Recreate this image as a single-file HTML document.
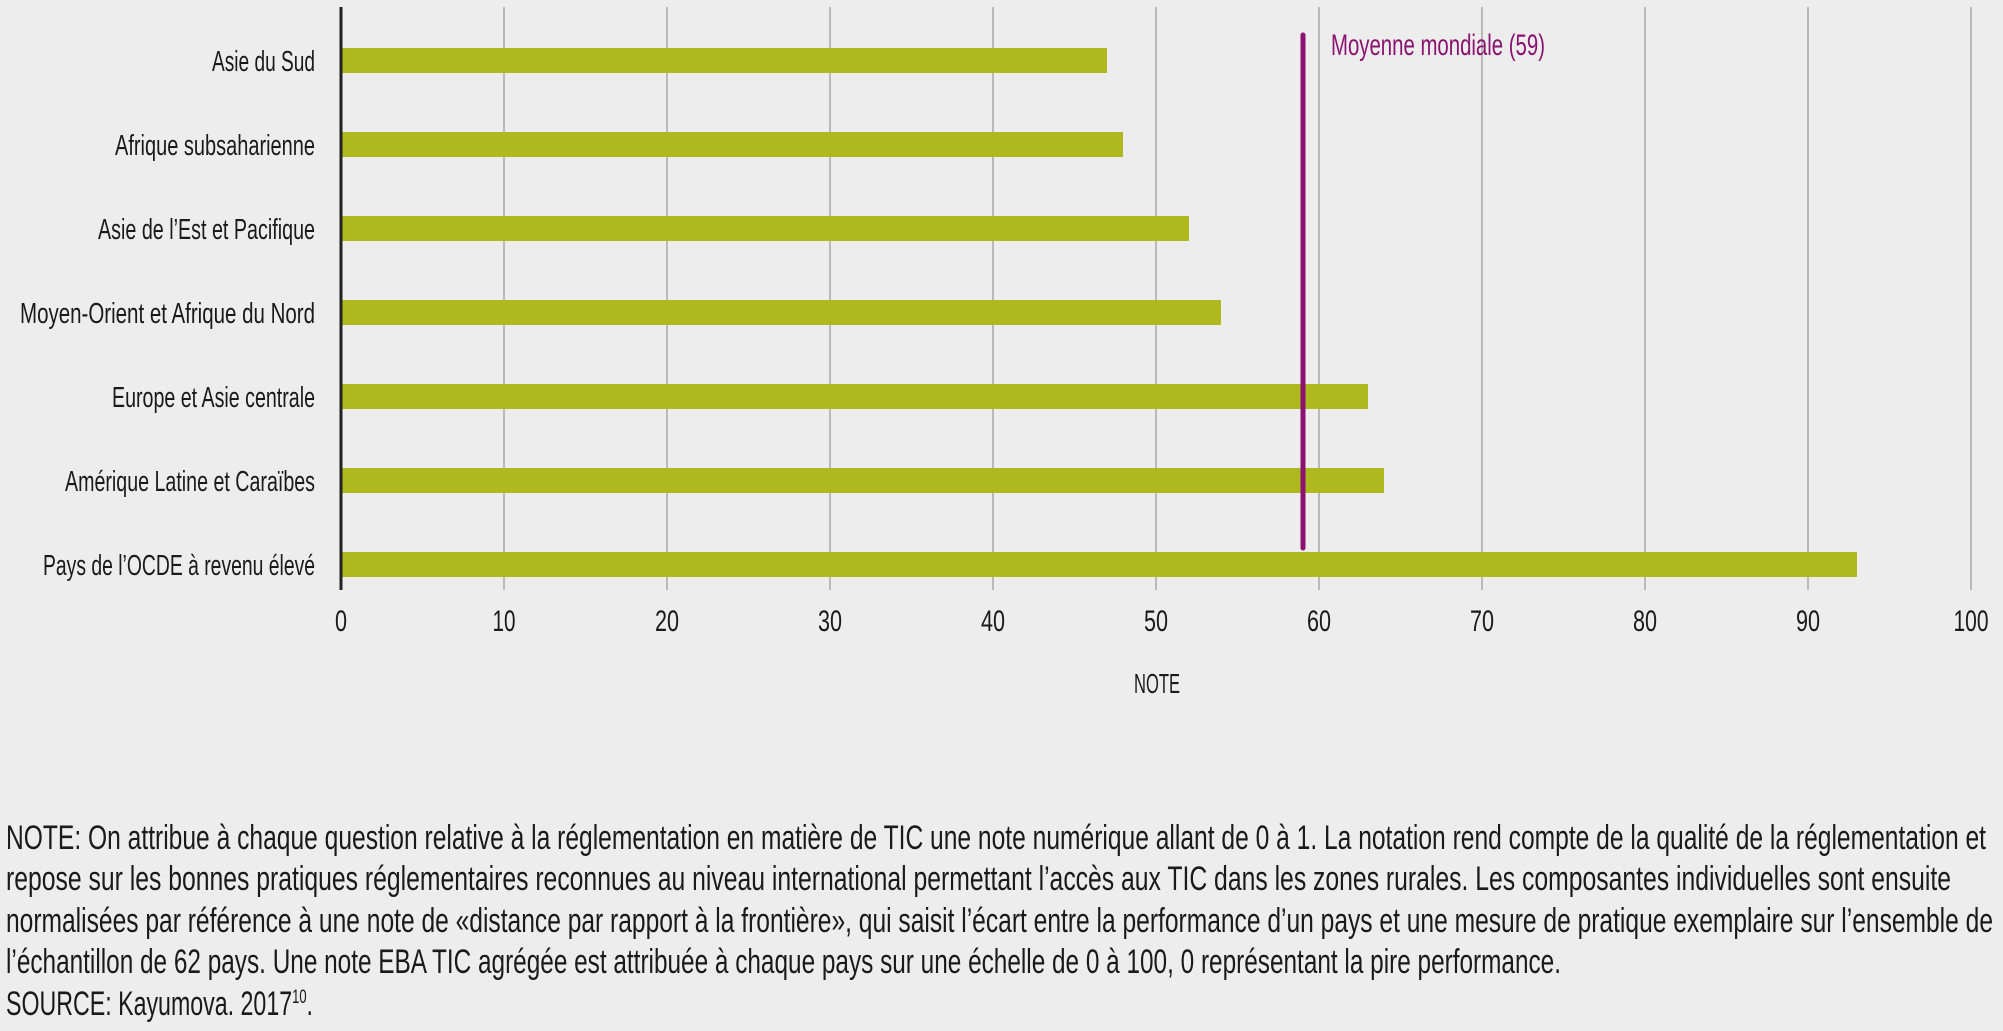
<!DOCTYPE html>
<html><head><meta charset="utf-8"><style>
html,body{margin:0;padding:0;background:#ededed;}
svg{display:block;}
text{font-family:"Liberation Sans",sans-serif;fill:#1a1a1a;}
</style></head><body>
<svg width="2003" height="1031" viewBox="0 0 2003 1031" xmlns="http://www.w3.org/2000/svg">
<rect width="2003" height="1031" fill="#ededed"/>
<g stroke="#a8a8a8" stroke-width="1.5">
<line x1="504" y1="7" x2="504" y2="590"/>
<line x1="667" y1="7" x2="667" y2="590"/>
<line x1="830" y1="7" x2="830" y2="590"/>
<line x1="993" y1="7" x2="993" y2="590"/>
<line x1="1156" y1="7" x2="1156" y2="590"/>
<line x1="1319" y1="7" x2="1319" y2="590"/>
<line x1="1482" y1="7" x2="1482" y2="590"/>
<line x1="1645" y1="7" x2="1645" y2="590"/>
<line x1="1808" y1="7" x2="1808" y2="590"/>
<line x1="1971" y1="7" x2="1971" y2="590"/>
</g>
<g fill="#adb91f">
<rect x="341" y="48" width="766" height="25"/>
<rect x="341" y="132" width="782" height="25"/>
<rect x="341" y="216" width="848" height="25"/>
<rect x="341" y="300" width="880" height="25"/>
<rect x="341" y="384" width="1027" height="25"/>
<rect x="341" y="468" width="1043" height="25"/>
<rect x="341" y="552" width="1516" height="25"/>
</g>
<line x1="341" y1="7" x2="341" y2="590" stroke="#222" stroke-width="3"/>
<line x1="1303" y1="35" x2="1303" y2="548" stroke="#8b1271" stroke-width="5" stroke-linecap="round"/>
<text x="1331" y="55" font-size="30" style="fill:#8b1271" textLength="214" lengthAdjust="spacingAndGlyphs">Moyenne mondiale (59)</text>
<g font-size="29" text-anchor="end">
<text x="315" y="71" textLength="103" lengthAdjust="spacingAndGlyphs">Asie du Sud</text>
<text x="315" y="155" textLength="200" lengthAdjust="spacingAndGlyphs">Afrique subsaharienne</text>
<text x="315" y="239" textLength="217" lengthAdjust="spacingAndGlyphs">Asie de l’Est et Pacifique</text>
<text x="315" y="323" textLength="295" lengthAdjust="spacingAndGlyphs">Moyen-Orient et Afrique du Nord</text>
<text x="315" y="407" textLength="203" lengthAdjust="spacingAndGlyphs">Europe et Asie centrale</text>
<text x="315" y="491" textLength="250" lengthAdjust="spacingAndGlyphs">Amérique Latine et Caraïbes</text>
<text x="315" y="575" textLength="272" lengthAdjust="spacingAndGlyphs">Pays de l’OCDE à revenu élevé</text>
</g>
<g font-size="30" text-anchor="middle">
<text x="341" y="631" textLength="12" lengthAdjust="spacingAndGlyphs">0</text>
<text x="504" y="631" textLength="23" lengthAdjust="spacingAndGlyphs">10</text>
<text x="667" y="631" textLength="24" lengthAdjust="spacingAndGlyphs">20</text>
<text x="830" y="631" textLength="24" lengthAdjust="spacingAndGlyphs">30</text>
<text x="993" y="631" textLength="24" lengthAdjust="spacingAndGlyphs">40</text>
<text x="1156" y="631" textLength="24" lengthAdjust="spacingAndGlyphs">50</text>
<text x="1319" y="631" textLength="24" lengthAdjust="spacingAndGlyphs">60</text>
<text x="1482" y="631" textLength="24" lengthAdjust="spacingAndGlyphs">70</text>
<text x="1645" y="631" textLength="24" lengthAdjust="spacingAndGlyphs">80</text>
<text x="1808" y="631" textLength="24" lengthAdjust="spacingAndGlyphs">90</text>
<text x="1971" y="631" textLength="35" lengthAdjust="spacingAndGlyphs">100</text>
<text x="1157" y="693" font-size="28" textLength="46" lengthAdjust="spacingAndGlyphs">NOTE</text>
</g>
<g font-size="34">
<text x="6" y="849" textLength="1980" lengthAdjust="spacingAndGlyphs">NOTE: On attribue à chaque question relative à la réglementation en matière de TIC une note numérique allant de 0 à 1. La notation rend compte de la qualité de la réglementation et</text>
<text x="6" y="890" textLength="1945" lengthAdjust="spacingAndGlyphs">repose sur les bonnes pratiques réglementaires reconnues au niveau international permettant l’accès aux TIC dans les zones rurales. Les composantes individuelles sont ensuite</text>
<text x="6" y="932" textLength="1987" lengthAdjust="spacingAndGlyphs">normalisées par référence à une note de «distance par rapport à la frontière», qui saisit l’écart entre la performance d’un pays et une mesure de pratique exemplaire sur l’ensemble de</text>
<text x="6" y="973" textLength="1555" lengthAdjust="spacingAndGlyphs">l’échantillon de 62 pays. Une note EBA TIC agrégée est attribuée à chaque pays sur une échelle de 0 à 100, 0 représentant la pire performance.</text>
<text x="6" y="1015" textLength="307" lengthAdjust="spacingAndGlyphs">SOURCE: Kayumova. 2017<tspan font-size="19" dy="-12">10</tspan><tspan dy="12">.</tspan></text>
</g>
</svg>
</body></html>
